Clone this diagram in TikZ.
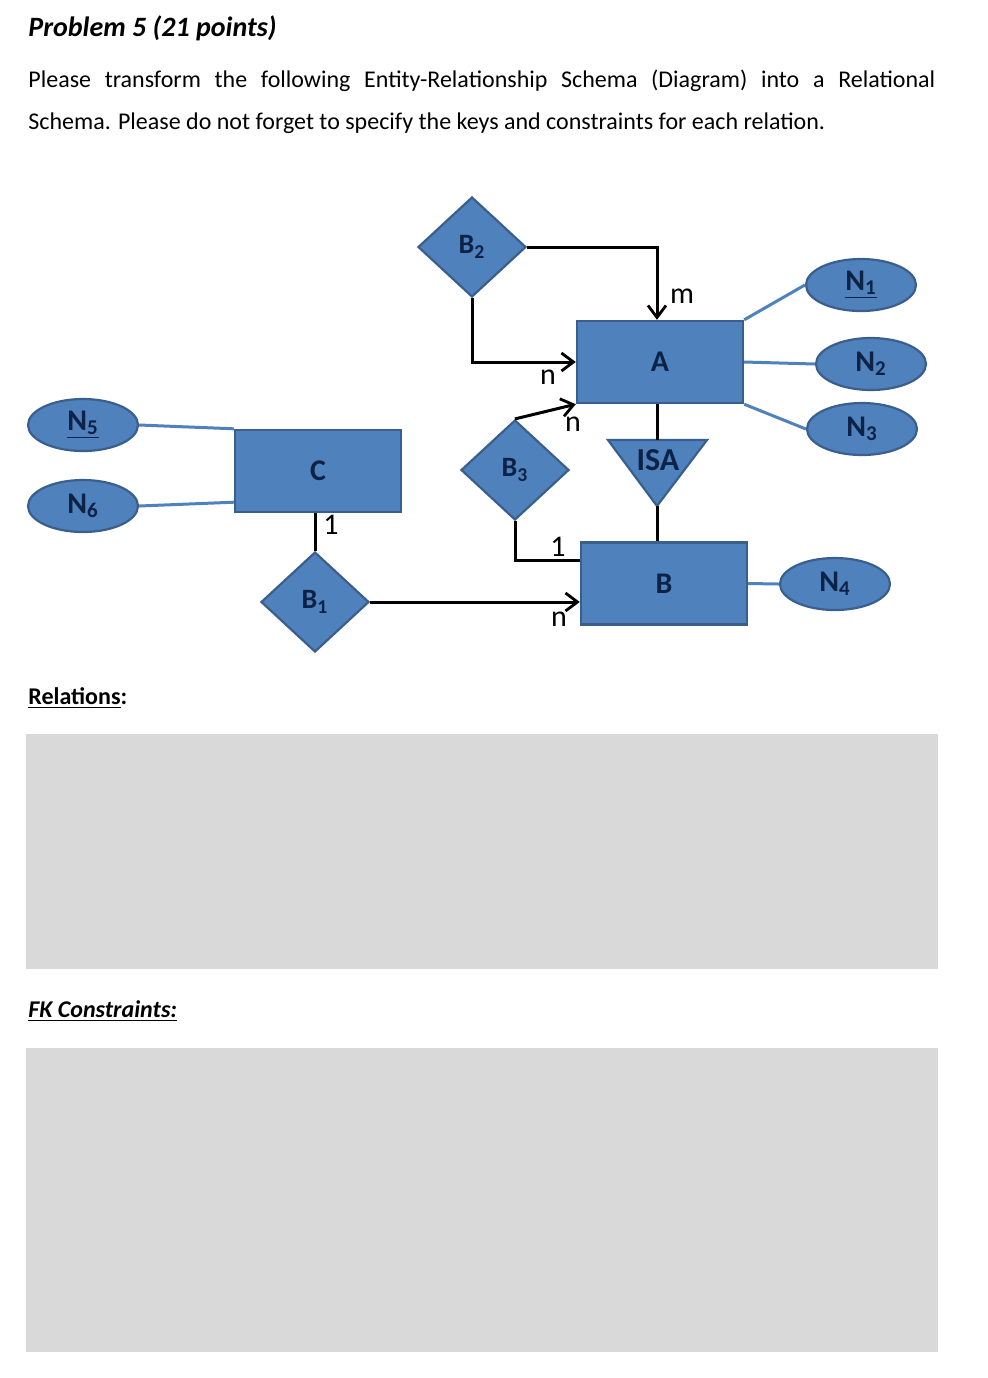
\documentclass[tikz,border=0pt]{standalone}
\usepackage{fontspec}
\setmainfont{Carlito}
\usetikzlibrary{shapes.geometric,arrows.meta,calc}
\definecolor{erfill}{HTML}{4F81BD}
\definecolor{erdraw}{HTML}{3A5F8C}
\definecolor{ertext}{HTML}{0D2247}
\definecolor{boxgray}{HTML}{D9D9D9}
\tikzset{
  ent/.style={rectangle, fill=erfill, draw=erdraw, line width=1.2pt, minimum width=83pt, minimum height=41pt, inner sep=0pt, text=ertext, font=\fontsize{15}{17}\selectfont\bfseries},
  rel/.style={diamond, fill=erfill, draw=erdraw, line width=1.1pt, minimum width=54pt, minimum height=50pt, inner sep=0pt, text=ertext, font=\fontsize{14}{16}\selectfont\bfseries},
  attr/.style={ellipse, fill=erfill, draw=erdraw, line width=1.1pt, minimum width=55pt, minimum height=26pt, inner sep=0pt, text=ertext, font=\fontsize{15}{17}\selectfont\bfseries},
  conn/.style={line width=1.5pt, black},
  arr/.style={conn, -{Straight Barb[length=6pt,width=9pt,line width=1.4pt]}},
  aline/.style={line width=1.5pt, draw=erfill},
  card/.style={font=\fontsize{15}{17}\selectfont, inner sep=0pt},
  graybox/.style={fill=boxgray, draw=none}
}
\begin{document}
\begin{tikzpicture}[x=0.5pt,y=-0.5pt]
\useasboundingbox (0,0) rectangle (988,1378);
% texts
\node[anchor=base west, inner sep=0pt, font=\fontsize{14}{16}\selectfont\bfseries\itshape] (title) at (28,36) {Problem 5 (21 points)};
\node[anchor=base west, inner sep=0pt, font=\fontsize{12}{14}\selectfont] (p1) at (28,87) {\makebox[453.5pt][s]{Please transform the following Entity-Relationship Schema (Diagram) into a Relational}};
\node[anchor=base west, inner sep=0pt, font=\fontsize{12}{14}\selectfont] (p2) at (28,129) {Schema. Please do not forget to specify the keys and constraints for each relation.};
\node[anchor=base west, inner sep=0pt, font=\fontsize{12}{14}\selectfont\bfseries] (rel) at (28,704) {\underline{Relations}:};
\node[anchor=base west, inner sep=0pt, font=\fontsize{12}{14}\selectfont\bfseries\itshape] (fk) at (28,1017) {\underline{FK Constraints:}};
% gray boxes
\path[graybox] (26,734) rectangle (938,969);
\path[graybox] (26,1048) rectangle (938,1352);
% entities
\node[ent] (A) at (660,362) {A};
\node[ent] (B) at (664,583.5) {B};
\node[ent] (C) at (318,471) {C};
% relationships
\node[rel] (B2) at (472,247) {B\textsubscript{2}};
\node[rel] (B3) at (515,470) {B\textsubscript{3}};
\node[rel] (B1) at (315,602) {B\textsubscript{1}};
% ISA triangle
\coordinate (isaT) at (657,440);
\coordinate (isaB) at (657,506);
\path[fill=erfill, draw=erdraw, line width=1.1pt, line join=miter] (608,440) -- (707,440) -- (isaB) -- cycle;
\node[text=ertext, font=\fontsize{16}{18}\selectfont\bfseries, inner sep=0pt] (isa) at (658,460) {ISA};
% attributes
\node[attr] (N1) at (861,285) {\underline{N\textsubscript{1}}};
\node[attr] (N2) at (871,364) {N\textsubscript{2}};
\node[attr] (N3) at (862,429) {N\textsubscript{3}};
\node[attr] (N4) at (835,584) {N\textsubscript{4}};
\node[attr] (N5) at (83,425) {\underline{N\textsubscript{5}}};
\node[attr] (N6) at (83,506) {N\textsubscript{6}};
% attribute lines
\draw[aline] (N1.west) -- (A.north east);
\draw[aline] (N2.west) -- (A.east);
\draw[aline] (N3.west) -- (A.south east);
\draw[aline] (N4.west) -- (B.east);
\draw[aline] (N5.east) -- (C.north west);
\draw[aline] (N6.east) -- ([yshift=5.5pt]C.south west);
% connectors
\draw[arr] (B2.east) -| (isaT |- A.north);
\draw[arr] (B2.south) |- (A.west);
\draw[arr] (B3.north) -- (A.south west);
\draw[conn] (B3.south) |- ([yshift=-9.5pt]B.north west);
\draw[arr] (B1.east) -- (B1.east -| B.west);
\draw[conn] (B1.north |- C.south) -- (B1.north);
\draw[conn] (isaT |- A.south) -- (isaT);
\draw[conn] (isaB) -- (isaB |- B.north);
% cardinalities
\node[card] (cm) at (682,296) {m};
\node[card] (cn1) at (548,377) {n};
\node[card] (cn2) at (573,424) {n};
\node[card] (c1a) at (558,547) {1};
\node[card] (cn3) at (559,619) {n};
\node[card] (c1b) at (331,525) {1};
\end{tikzpicture}
\end{document}
